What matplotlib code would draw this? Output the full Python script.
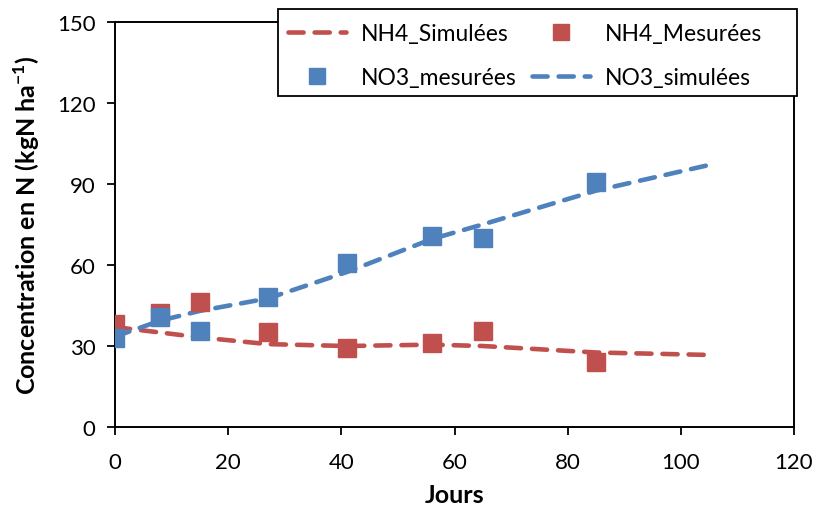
import matplotlib
matplotlib.use("Agg")
import matplotlib.pyplot as plt
from matplotlib.lines import Line2D
from matplotlib.patches import Rectangle

plt.rcParams['font.family'] = ['Lato', 'DejaVu Sans']
plt.rcParams['mathtext.fontset'] = 'custom'
plt.rcParams['mathtext.rm'] = 'Lato'
plt.rcParams['mathtext.bf'] = 'Lato:bold'

# Measured days
days = [0, 8, 15, 27, 41, 56, 65, 85]
nh4_mes = [38.2, 42.2, 46.3, 35.2, 29.3, 31.1, 35.5, 24.0]
no3_mes = [33.0, 40.7, 35.5, 48.1, 60.7, 70.7, 70.0, 90.7]

# Simulated series
sim_days = [0, 8, 15, 27, 41, 56, 65, 85, 105]
nh4_sim = [37.0, 35.0, 33.2, 30.7, 30.0, 30.5, 30.0, 27.6, 26.7]
no3_sim = [33.5, 39.4, 43.0, 47.6, 57.4, 69.6, 75.0, 87.5, 97.0]

xticks = [0, 20, 40, 60, 80, 100, 120]
yticks = [0, 30, 60, 90, 120, 150]

red = '#C0504D'
blue = '#4F81BD'
dash = (0, (3.3, 2.4))
lw = 3.3

W, H = 816, 506
fig = plt.figure(figsize=(W / 100, H / 100), dpi=100)
ax = fig.add_axes([0.141, 0.154, 0.832, 0.801])

ax.plot(sim_days, nh4_sim, ls=dash, color=red, lw=lw, dash_capstyle='round', zorder=2)
ax.plot(sim_days, no3_sim, ls=dash, color=blue, lw=lw, dash_capstyle='round', zorder=2)
ax.plot(days, nh4_mes, 's', color=red, ms=13, mec=red, zorder=3)
ax.plot(days, no3_mes, 's', color=blue, ms=13, mec=blue, zorder=3)

ax.set_xlim(0, 120)
ax.set_ylim(0, 150)
ax.set_xticks(xticks)
ax.set_yticks(yticks)
ax.tick_params(axis='both', direction='out', length=6, width=1.3, labelsize=16, colors='black')
ax.tick_params(axis='x', pad=12)
ax.tick_params(axis='y', pad=8)
for s in ax.spines.values():
    s.set_linewidth(1.4)
    s.set_color('black')

ax.set_xlabel('Jours', fontsize=18, fontweight='bold')
ax.set_ylabel(r'Concentration en N (kgN ha$^{\mathbf{-1}}$)', fontsize=18, fontweight='bold')
ax.xaxis.set_label_coords(0.5, (428 - 484) / 405)
ax.yaxis.set_label_coords((42 - 115) / 679, 0.5)

# legend frame (white box with black border)
x0, y0, x1, y1 = 278, 10, 797, 97
frame = Rectangle((x0 / W, 1 - y1 / H), (x1 - x0) / W, (y1 - y0) / H,
                  transform=fig.transFigure, facecolor='white', edgecolor='black',
                  linewidth=1.3, zorder=9)
fig.add_artist(frame)

handles = [
    Line2D([], [], ls=dash, color=red, lw=lw, dash_capstyle='round'),
    Line2D([], [], ls='none', marker='s', color=blue, ms=11),
    Line2D([], [], ls='none', marker='s', color=red, ms=11),
    Line2D([], [], ls=dash, color=blue, lw=lw, dash_capstyle='round'),
]
labels = ['NH4_Simulées', 'NO3_mesurées', 'NH4_Mesurées', 'NO3_simulées']
leg = fig.legend(handles, labels, ncol=2, loc='upper left',
                 bbox_to_anchor=(x0 / W, 1 - (y0 + 4) / H), fontsize=16.5,
                 frameon=False, handlelength=2.5, handletextpad=0.65,
                 columnspacing=0.7, borderpad=0.45, labelspacing=1.0,
                 borderaxespad=0)
leg.set_zorder(10)

fig.savefig('out.png', dpi=100)
